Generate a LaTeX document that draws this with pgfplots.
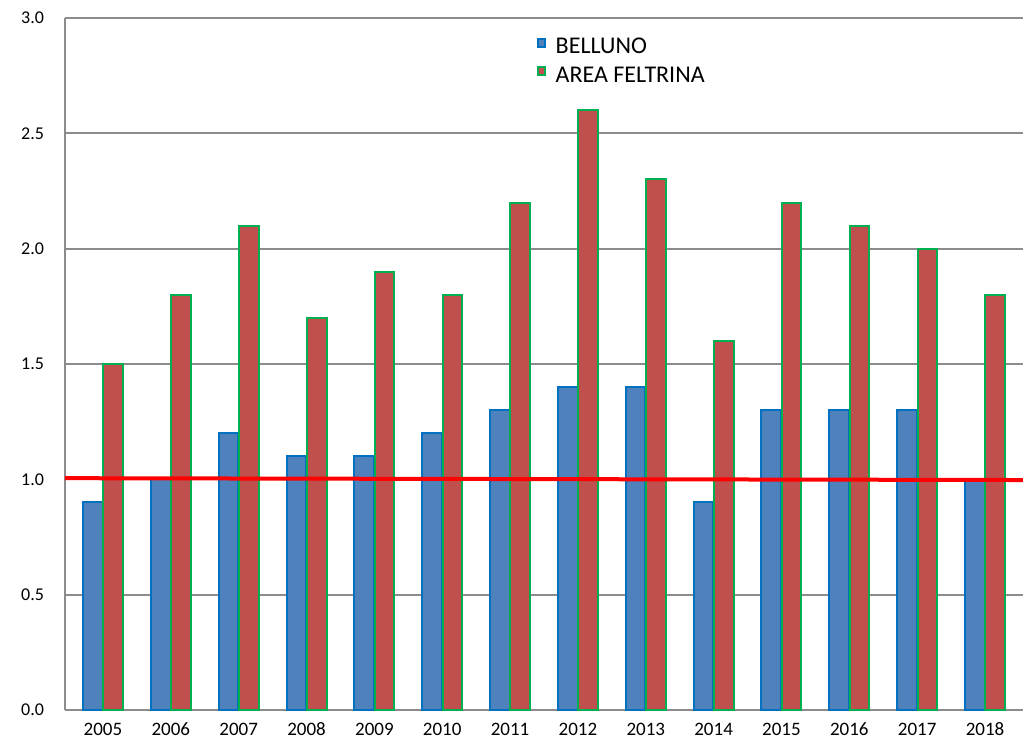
\documentclass[border=0pt]{standalone}
\usepackage{fontspec}
\setmainfont{Carlito}
\usepackage{pgfplots}
\pgfplotsset{compat=1.18}

\definecolor{bellfill}{HTML}{4F81BD}
\definecolor{bellline}{HTML}{0070C0}
\definecolor{feltfill}{HTML}{C0504D}
\definecolor{feltline}{HTML}{00B050}
\definecolor{gridgray}{HTML}{8C8C8C}

\begin{document}
\begin{tikzpicture}
\begin{axis}[
    scale only axis,
    width=479pt, height=346pt,
    at={(0,0)}, anchor=south west,
    xmin=-0.56, xmax=13.56,
    ymin=0, ymax=3,
    ybar, bar width=0.29,
    axis x line=bottom, axis y line=left,
    axis line style={gridgray, line width=1pt, -},
    xtick={0,...,13},
    xticklabels={2005,2006,2007,2008,2009,2010,2011,2012,2013,2014,2015,2016,2017,2018},
    ytick={0,0.5,...,3.0},
    yticklabel style={/pgf/number format/fixed, /pgf/number format/fixed zerofill,
        /pgf/number format/precision=1, xshift=-7pt, font=\fontsize{9}{10}\selectfont},
    /pgf/number format/assume math mode=true,
    major tick length=0pt,
    ymajorgrids,
    grid style={gridgray, line width=1pt},
    tick label style={black},
    xticklabel style={anchor=base, yshift=-12.5pt, font=\fontsize{9.5}{11}\selectfont},
    legend style={draw=none, fill=none, at={(0.492,0.977)}, anchor=north west,
        font=\fontsize{12}{14}\selectfont, row sep=1pt, inner sep=0pt},
    legend cell align=left,
    legend image code/.code={\draw[#1, line width=1pt] (0pt,0.5pt) rectangle (3.8pt,4.5pt);
        \path (6.5pt,0pt);},
]
\addplot[fill=bellfill, draw=bellline, line width=1pt, bar shift=-0.15] coordinates {
    (0,0.9) (1,1.0) (2,1.2) (3,1.1) (4,1.1) (5,1.2) (6,1.3)
    (7,1.4) (8,1.4) (9,0.9) (10,1.3) (11,1.3) (12,1.3) (13,1.0)
};
\addlegendentry{BELLUNO}
\addplot[fill=feltfill, draw=feltline, line width=1pt, bar shift=0.15] coordinates {
    (0,1.5) (1,1.8) (2,2.1) (3,1.7) (4,1.9) (5,1.8) (6,2.2)
    (7,2.6) (8,2.3) (9,1.6) (10,2.2) (11,2.1) (12,2.0) (13,1.8)
};
\addlegendentry{AREA FELTRINA}
\addplot[sharp plot, red, line width=2pt, forget plot] coordinates {
    (-0.56,1.005) (13.56,0.997)
};
\end{axis}
\pgfresetboundingbox
\path[use as bounding box] (-32.5pt,-15pt) rectangle (479pt,355pt);
\end{tikzpicture}
\end{document}
